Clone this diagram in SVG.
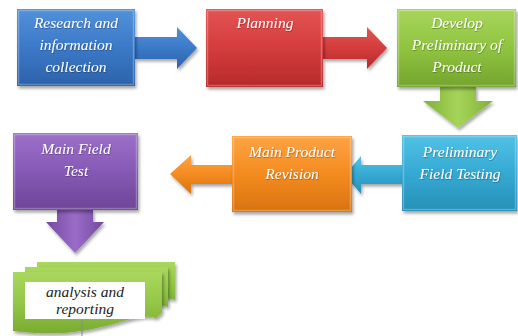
<svg xmlns="http://www.w3.org/2000/svg" width="518" height="336" viewBox="0 0 518 336">
<defs>
<filter id="sh" x="-10%" y="-10%" width="130%" height="135%">
<feDropShadow dx="1.5" dy="2.5" stdDeviation="1.8" flood-color="#000" flood-opacity="0.35"/>
</filter>
<filter id="tsh" x="-10%" y="-20%" width="120%" height="150%">
<feDropShadow dx="0.6" dy="0.8" stdDeviation="0.5" flood-color="#000" flood-opacity="0.35"/>
</filter>
<linearGradient id="gBlue" x1="0" y1="0" x2="0" y2="1"><stop offset="0" stop-color="#5291da"/><stop offset="0.5" stop-color="#3b79c7"/><stop offset="1" stop-color="#2c62aa"/></linearGradient>
<linearGradient id="gRed" x1="0" y1="0" x2="0" y2="1"><stop offset="0" stop-color="#e45454"/><stop offset="0.5" stop-color="#d43c3c"/><stop offset="1" stop-color="#b72a2a"/></linearGradient>
<linearGradient id="gGreen" x1="0" y1="0" x2="0" y2="1"><stop offset="0" stop-color="#a8d55c"/><stop offset="0.5" stop-color="#8fc440"/><stop offset="1" stop-color="#75a42e"/></linearGradient>
<linearGradient id="gCyan" x1="0" y1="0" x2="0" y2="1"><stop offset="0" stop-color="#52c2e6"/><stop offset="0.5" stop-color="#35a9d3"/><stop offset="1" stop-color="#2690b8"/></linearGradient>
<linearGradient id="gOrange" x1="0" y1="0" x2="0" y2="1"><stop offset="0" stop-color="#fca444"/><stop offset="0.5" stop-color="#f48b20"/><stop offset="1" stop-color="#d8730f"/></linearGradient>
<linearGradient id="gPurple" x1="0" y1="0" x2="0" y2="1"><stop offset="0" stop-color="#9d70ca"/><stop offset="0.5" stop-color="#8559b5"/><stop offset="1" stop-color="#6d4597"/></linearGradient>
<linearGradient id="gGreenH" x1="0" y1="0" x2="1" y2="0"><stop offset="0" stop-color="#7fb236"/><stop offset="0.5" stop-color="#a6d45a"/><stop offset="1" stop-color="#7fb236"/></linearGradient>
<linearGradient id="gPurpleH" x1="0" y1="0" x2="1" y2="0"><stop offset="0" stop-color="#74499f"/><stop offset="0.5" stop-color="#9a6cc8"/><stop offset="1" stop-color="#74499f"/></linearGradient>
<linearGradient id="gDoc" x1="0" y1="0" x2="0" y2="1"><stop offset="0" stop-color="#aad85e"/><stop offset="0.5" stop-color="#93c746"/><stop offset="1" stop-color="#7aab32"/></linearGradient>
</defs>
<style>
.box{filter:url(#sh);}
.bev{fill:none;stroke:#ffffff;stroke-opacity:0.25;stroke-width:1.5;}
.lbl{font-family:"Liberation Serif","DejaVu Serif",serif;font-style:italic;font-size:15.5px;fill:#ffffff;text-anchor:middle;filter:url(#tsh);}
.dlbl{font-family:"Liberation Serif","DejaVu Serif",serif;font-style:italic;font-size:15.5px;fill:#222222;text-anchor:middle;}
</style>
<rect width="518" height="336" fill="#ffffff"/>

<g id="connectors">
<path class="box" d="M135,37 H177 V27 L197,48 L177,69 V59 H135 Z" fill="url(#gBlue)"/>
<path class="box" d="M323,37 H367 V27 L387,48 L367,69 V59 H323 Z" fill="url(#gRed)"/>
<path class="box" d="M440,87 V101 H423 L458,128 L493,101 H476 V87 Z" fill="url(#gGreenH)"/>
<path class="box" d="M402,165 H361 V156 L345,175 L361,194 V184 H402 Z" fill="url(#gCyan)"/>
<path class="box" d="M232,165 H191 V155 L170,174 L191,194 V184 H232 Z" fill="url(#gOrange)"/>
<path class="box" d="M57,210 V222 H46 L75,253 L104,222 H93 V210 Z" fill="url(#gPurpleH)"/>
</g>

<g id="research">
<rect class="box" x="17" y="9" width="118" height="77" fill="url(#gBlue)"/>
<rect class="bev" x="18.5" y="10.5" width="115" height="74"/>
<text class="lbl" x="76" y="28">Research and</text>
<text class="lbl" x="76" y="50">information</text>
<text class="lbl" x="76" y="72">collection</text>
</g>

<g id="planning">
<rect class="box" x="206" y="9" width="117" height="78" fill="url(#gRed)"/>
<rect class="bev" x="207.5" y="10.5" width="114" height="75"/>
<text class="lbl" x="265" y="28">Planning</text>
</g>

<g id="develop">
<rect class="box" x="397" y="9" width="119" height="78" fill="url(#gGreen)"/>
<rect class="bev" x="398.5" y="10.5" width="116" height="75"/>
<text class="lbl" x="457" y="28">Develop</text>
<text class="lbl" x="457" y="50">Preliminary of</text>
<text class="lbl" x="457" y="72">Product</text>
</g>

<g id="field-testing">
<rect class="box" x="402" y="135" width="115" height="76" fill="url(#gCyan)"/>
<rect class="bev" x="403.5" y="136.5" width="112" height="73"/>
<text class="lbl" x="460" y="157">Preliminary</text>
<text class="lbl" x="460" y="179">Field Testing</text>
</g>

<g id="revision">
<rect class="box" x="232" y="136" width="120" height="76" fill="url(#gOrange)"/>
<rect class="bev" x="233.5" y="137.5" width="117" height="73"/>
<text class="lbl" x="292" y="157">Main Product</text>
<text class="lbl" x="292" y="179">Revision</text>
</g>

<g id="main-field-test">
<rect class="box" x="13" y="133" width="125" height="77" fill="url(#gPurple)"/>
<rect class="bev" x="14.5" y="134.5" width="122" height="74"/>
<text class="lbl" x="76" y="154">Main Field</text>
<text class="lbl" x="76" y="176">Test</text>
</g>

<g id="analysis">
<path class="box" d="M37,262 H175 V300 C150,292 120,312 37,304 Z" fill="url(#gDoc)"/>
<path class="box" d="M25,267 H168 V307 C140,298 110,318 25,310 Z" fill="url(#gDoc)"/>
<path class="box" d="M13,272 H162 V313 L156,318 C130,310 100,342 13,331 Z" fill="url(#gDoc)"/>
<rect x="25" y="282" width="120" height="37" fill="#ffffff"/>
<line x1="82" y1="319" x2="82" y2="336" stroke="#8a8a8a" stroke-width="1"/>
<text class="dlbl" x="85" y="297">analysis and</text>
<text class="dlbl" x="85" y="314">reporting</text>
</g>
</svg>
